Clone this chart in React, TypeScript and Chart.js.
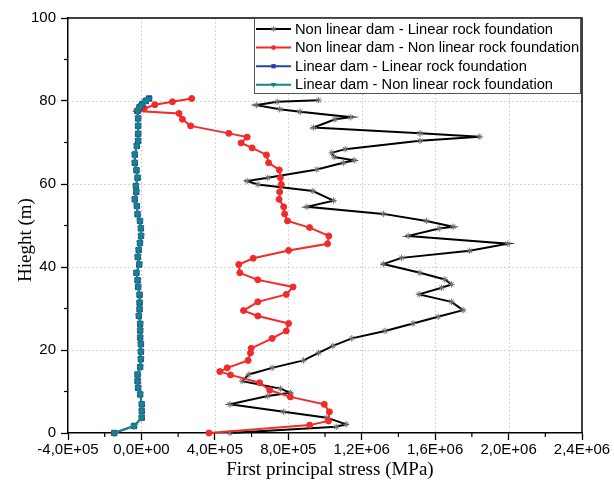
import React, { useEffect, useRef } from 'react';
import { Chart, registerables } from 'chart.js';

Chart.register(...registerables);

// ---- Axis ticks ----
const xTickValues = [-4e5, 0, 4e5, 8e5, 1.2e6, 1.6e6, 2.0e6, 2.4e6];
const xMinorTicks = [-2e5, 2e5, 6e5, 1.0e6, 1.4e6, 1.8e6, 2.2e6];
const yTickValues = [0, 20, 40, 60, 80, 100];
const yMinorTicks = [10, 30, 50, 70, 90];

const xTitle = 'First principal stress (MPa)';
const yTitle = 'Hieght (m)';

const seriesLabels = [
  'Non linear dam - Linear rock foundation',
  'Non linear dam - Non linear rock foundation',
  'Linear dam - Linear rock foundation',
  'Linear dam - Non linear rock foundation',
];

// ---- Series 1: Non linear dam - Linear rock foundation ----
const blackStress = [
  4.82e5, 10.61e5, 11.15e5, 10.10e5, 7.75e5, 4.82e5, 6.88e5, 8.11e5, 7.57e5, 5.49e5,
  5.85e5, 7.12e5, 8.83e5, 9.65e5, 10.43e5, 11.46e5, 13.27e5, 14.80e5, 16.16e5, 17.52e5,
  16.89e5, 15.13e5, 16.35e5, 16.89e5, 16.53e5, 15.17e5, 13.18e5, 14.17e5, 17.88e5, 19.96e5,
  14.53e5, 16.22e5, 16.98e5, 15.53e5, 13.18e5, 9.02e5, 10.46e5, 9.34e5, 6.34e5, 5.76e5,
  6.88e5, 9.56e5, 11.0e5, 11.59e5, 10.50e5, 10.37e5, 11.10e5, 15.17e5, 18.43e5, 15.17e5,
  9.38e5, 10.55e5, 11.41e5, 8.65e5, 7.53e5, 6.26e5, 7.39e5, 9.65e5,
];
const blackHeight = [
  0, 1.5, 2.1, 3.7, 5.1, 6.9, 8.9, 9.7, 10.7, 12.5,
  14.1, 15.7, 17.5, 19.3, 21.0, 22.8, 24.6, 26.4, 28.0, 29.6,
  31.6, 33.4, 35.0, 35.8, 37.0, 38.6, 40.7, 42.2, 43.9, 45.6,
  47.5, 49.3, 49.7, 51.1, 52.8, 54.5, 56.0, 58.3, 59.9, 60.7,
  61.5, 63.5, 65.1, 65.7, 66.5, 67.5, 68.4, 70.4, 71.4, 72.2,
  73.6, 75.6, 76.1, 77.4, 78.0, 79.0, 79.8, 80.2,
];

// ---- Series 2: Non linear dam - Non linear rock foundation ----
const redStress = [
  3.68e5, 9.16e5, 10.19e5, 10.24e5, 9.96e5, 8.11e5, 6.99e5, 6.44e5, 4.85e5, 4.27e5,
  4.67e5, 5.81e5, 5.94e5, 5.98e5, 7.12e5, 7.89e5, 8.02e5, 6.34e5, 5.56e5, 6.34e5,
  7.89e5, 8.26e5, 6.34e5, 5.36e5, 5.30e5, 6.09e5, 8.02e5, 10.14e5, 10.21e5, 9.16e5,
  7.96e5, 7.80e5, 7.75e5, 7.50e5, 7.53e5, 7.62e5, 7.57e5, 7.51e5, 6.93e5, 6.81e5,
  6.03e5, 5.43e5, 5.76e5, 4.76e5, 2.68e5, 2.23e5, 2.05e5, -0.25e5, 0.15e5, 0.73e5,
  1.69e5, 2.74e5,
];
const redHeight = [
  0, 1.9, 2.9, 5.1, 6.9, 8.7, 10.3, 12.1, 14.0, 14.8,
  15.7, 17.5, 19.3, 20.4, 22.8, 24.6, 26.4, 28.2, 29.5, 31.6,
  33.4, 35.2, 36.9, 38.6, 40.6, 42.1, 44.0, 45.6, 47.5, 49.5,
  51.1, 52.8, 54.5, 56.3, 58.1, 59.9, 61.5, 63.4, 65.1, 67.0,
  68.7, 69.9, 71.3, 72.2, 74.0, 75.6, 77.0, 77.6, 78.2, 79.1,
  79.8, 80.6,
];

// ---- Series 3: Linear dam - Linear rock foundation ----
const blueStress = [
  -1.48e5, -0.40e5, 0.02e5, 0.02e5, 0.02e5, -0.07e5, -0.18e5, -0.21e5, -0.21e5, -0.07e5,
  -0.03e5, -0.03e5, -0.03e5, -0.07e5, -0.07e5, -0.07e5, -0.14e5, -0.10e5, -0.10e5, -0.10e5,
  -0.18e5, -0.21e5, -0.27e5, -0.12e5, -0.20e5, -0.15e5, -0.08e5, -0.02e5, -0.03e5, -0.08e5,
  -0.21e5, -0.25e5, -0.36e5, -0.28e5, -0.30e5, -0.21e5, -0.27e5, -0.36e5, -0.36e5, -0.25e5,
  -0.18e5, -0.18e5, -0.18e5, -0.18e5, -0.21e5, -0.10e5, 0.04e5, 0.24e5, 0.42e5,
];
const blueHeight = [
  0, 1.7, 3.7, 5.3, 6.9, 9.3, 10.9, 12.5, 14.1, 15.9,
  17.8, 19.6, 21.4, 23.0, 24.7, 26.3, 28.2, 29.8, 31.4, 33.3,
  35.2, 36.8, 38.6, 40.6, 42.4, 44.1, 45.8, 47.5, 49.3, 51.1,
  52.7, 54.7, 56.3, 58.1, 59.5, 61.5, 63.3, 65.1, 67.1, 69.2,
  70.4, 72.1, 74.0, 75.8, 77.6, 78.5, 79.2, 80.0, 80.6,
];

// ---- Series 4: Linear dam - Non linear rock foundation ----
const tealStress = [
  -1.48e5, -0.40e5, 0.02e5, 0.02e5, 0.02e5, -0.07e5, -0.18e5, -0.21e5, -0.21e5, -0.07e5,
  -0.03e5, -0.03e5, -0.03e5, -0.07e5, -0.07e5, -0.07e5, -0.14e5, -0.10e5, -0.10e5, -0.10e5,
  -0.18e5, -0.21e5, -0.27e5, -0.12e5, -0.20e5, -0.15e5, -0.08e5, -0.02e5, -0.03e5, -0.08e5,
  -0.21e5, -0.25e5, -0.36e5, -0.28e5, -0.30e5, -0.21e5, -0.27e5, -0.36e5, -0.36e5, -0.25e5,
  -0.18e5, -0.18e5, -0.18e5, -0.18e5, -0.21e5, -0.12e5, 0.0, 0.18e5, 0.36e5,
];
const tealHeight = [
  0, 1.7, 3.7, 5.3, 6.9, 9.3, 10.9, 12.5, 14.1, 15.9,
  17.8, 19.6, 21.4, 23.0, 24.7, 26.3, 28.2, 29.8, 31.4, 33.3,
  35.2, 36.8, 38.6, 40.6, 42.4, 44.1, 45.8, 47.5, 49.3, 51.1,
  52.7, 54.7, 56.3, 58.1, 59.5, 61.5, 63.3, 65.1, 67.1, 69.2,
  70.4, 72.1, 74.0, 75.8, 77.6, 78.4, 79.0, 79.8, 80.4,
];

const SANS = '"Liberation Sans", Arial, Helvetica, sans-serif';
const SERIF = '"Liberation Serif", "Times New Roman", serif';

const styles = [
  { color: '#000000', marker: 'star', markerColor: '#707070', radius: 3.2 },
  { color: '#f22a2a', marker: 'circle', markerColor: '#f22a2a', radius: 3 },
  { color: '#2444a8', marker: 'rect', markerColor: '#2444a8', radius: 3.8 },
  { color: '#168585', marker: 'triangle', markerColor: '#168585', radius: 3.6 },
];

function fmtSci(v: number): string {
  const r = Math.round(v / 1000) * 1000;
  if (r === 0) return '0,0E+00';
  const e = Math.floor(Math.log10(Math.abs(r)) + 1e-9);
  const m = r / Math.pow(10, e);
  return m.toFixed(1).replace('.', ',') + 'E+' + String(e).padStart(2, '0');
}

function drawMarker(ctx: CanvasRenderingContext2D, kind: string, x: number, y: number, r: number, color: string) {
  ctx.save();
  ctx.fillStyle = color;
  ctx.strokeStyle = color;
  ctx.lineWidth = 1;
  ctx.beginPath();
  if (kind === 'circle') {
    ctx.arc(x, y, r, 0, Math.PI * 2);
    ctx.fill();
  } else if (kind === 'rect') {
    const s = r * Math.SQRT1_2;
    ctx.rect(x - s, y - s, 2 * s, 2 * s);
    ctx.fill();
  } else if (kind === 'triangle') {
    ctx.moveTo(x - r, y - r * 0.6);
    ctx.lineTo(x + r, y - r * 0.6);
    ctx.lineTo(x, y + r);
    ctx.closePath();
    ctx.fill();
  } else {
    ctx.moveTo(x - r, y);
    ctx.lineTo(x + r, y);
    ctx.moveTo(x, y - r);
    ctx.lineTo(x, y + r);
    ctx.moveTo(x - r * 0.7, y - r * 0.7);
    ctx.lineTo(x + r * 0.7, y + r * 0.7);
    ctx.moveTo(x - r * 0.7, y + r * 0.7);
    ctx.lineTo(x + r * 0.7, y - r * 0.7);
    ctx.stroke();
  }
  ctx.restore();
}

const framePlugin = {
  id: 'framePlugin',
  beforeDatasetsDraw(chart: any) {
    const { ctx, chartArea } = chart;
    const xs = chart.scales.x;
    const ys = chart.scales.y;
    ctx.save();
    ctx.strokeStyle = '#c8c8c8';
    ctx.lineWidth = 1;
    ctx.setLineDash([1.5, 2.5]);
    xTickValues.slice(1, -1).forEach((v) => {
      const px = Math.round(xs.getPixelForValue(v)) + 0.5;
      ctx.beginPath();
      ctx.moveTo(px, chartArea.top);
      ctx.lineTo(px, chartArea.bottom);
      ctx.stroke();
    });
    yTickValues.slice(1, -1).forEach((v) => {
      const py = Math.round(ys.getPixelForValue(v)) + 0.5;
      ctx.beginPath();
      ctx.moveTo(chartArea.left, py);
      ctx.lineTo(chartArea.right, py);
      ctx.stroke();
    });
    ctx.restore();
  },
  afterDatasetsDraw(chart: any) {
    const { ctx, chartArea } = chart;
    const xs = chart.scales.x;
    const ys = chart.scales.y;
    ctx.save();
    ctx.strokeStyle = '#000';
    ctx.lineWidth = 1.5;
    ctx.beginPath();
    ctx.moveTo(chartArea.left, chartArea.top);
    ctx.lineTo(chartArea.right, chartArea.top);
    ctx.lineTo(chartArea.right, chartArea.bottom);
    ctx.stroke();
    ctx.lineWidth = 1.2;
    xMinorTicks.forEach((v) => {
      const px = xs.getPixelForValue(v);
      ctx.beginPath();
      ctx.moveTo(px, chartArea.bottom);
      ctx.lineTo(px, chartArea.bottom + 4);
      ctx.stroke();
    });
    yMinorTicks.forEach((v) => {
      const py = ys.getPixelForValue(v);
      ctx.beginPath();
      ctx.moveTo(chartArea.left, py);
      ctx.lineTo(chartArea.left - 4, py);
      ctx.stroke();
    });
    ctx.restore();
  },
  afterDraw(chart: any) {
    const { ctx, chartArea } = chart;
    // legend
    const bx = 254, by = chartArea.top, bw = 326, bh = 75;
    ctx.save();
    ctx.fillStyle = '#fff';
    ctx.fillRect(bx, by, bw, bh);
    ctx.strokeStyle = '#555';
    ctx.lineWidth = 1;
    ctx.strokeRect(bx + 0.5, by + 0.5, bw, bh);
    ctx.font = '14.7px ' + SANS;
    ctx.textBaseline = 'middle';
    ctx.textAlign = 'left';
    seriesLabels.forEach((label, i) => {
      const y = by + 11 + i * 18.6;
      const st = styles[i];
      ctx.strokeStyle = st.color;
      ctx.lineWidth = 2;
      ctx.beginPath();
      ctx.moveTo(bx + 2, y);
      ctx.lineTo(bx + 37, y);
      ctx.stroke();
      drawMarker(ctx, st.marker, bx + 19.5, y, st.radius * 0.8, st.markerColor);
      ctx.fillStyle = '#000';
      ctx.fillText(label, bx + 41, y + 0.5);
    });
    // axis titles
    ctx.fillStyle = '#000';
    ctx.font = '19px ' + SERIF;
    ctx.textAlign = 'center';
    ctx.textBaseline = 'middle';
    ctx.fillText(xTitle, (chartArea.left + chartArea.right) / 2 + 5, 470);
    ctx.save();
    ctx.translate(26, 240);
    ctx.rotate(-Math.PI / 2);
    ctx.fillText(yTitle, 0, 0);
    ctx.restore();
    ctx.restore();
  },
};

function makeData(xs: number[], ys: number[]) {
  return xs.map((x, i) => ({ x, y: ys[i] }));
}

export default function App() {
  const canvasRef = useRef<HTMLCanvasElement | null>(null);

  useEffect(() => {
    const canvas = canvasRef.current;
    if (!canvas) return;
    const seriesData = [
      makeData(blackStress, blackHeight),
      makeData(redStress, redHeight),
      makeData(blueStress, blueHeight),
      makeData(tealStress, tealHeight),
    ];
    const orders = [4, 3, 2, 1];
    const datasets = seriesData.map((data, i) => ({
      label: seriesLabels[i],
      data,
      showLine: true,
      tension: 0,
      borderColor: styles[i].color,
      borderWidth: 2,
      backgroundColor: styles[i].markerColor,
      pointStyle: styles[i].marker,
      pointRadius: styles[i].radius,
      pointRotation: i === 3 ? 180 : 0,
      pointBackgroundColor: styles[i].markerColor,
      pointBorderColor: styles[i].markerColor,
      pointBorderWidth: 1,
      order: orders[i],
      clip: false as any,
    }));

    const chart = new Chart(canvas, {
      type: 'scatter',
      data: { datasets },
      options: {
        animation: false,
        responsive: false,
        devicePixelRatio: 1,
        events: [],
        layout: { padding: { top: 18, right: 32, left: 0, bottom: 0 } },
        plugins: {
          legend: { display: false },
          tooltip: { enabled: false },
          title: { display: false },
        },
        scales: {
          x: {
            type: 'linear',
            min: -4e5,
            max: 2.4e6,
            afterBuildTicks: (s: any) => {
              s.ticks = xTickValues.map((v) => ({ value: v }));
            },
            afterFit: (s: any) => {
              s.height = 51;
            },
            ticks: {
              autoSkip: false,
              maxRotation: 0,
              minRotation: 0,
              padding: 1,
              color: '#000',
              font: { family: SANS, size: 15 },
              callback: (v: any) => fmtSci(Number(v)),
            },
            grid: {
              display: true,
              drawOnChartArea: false,
              drawTicks: true,
              tickLength: 7,
              tickColor: '#000',
              tickWidth: 1.3,
            },
            border: { display: true, color: '#000', width: 1.5 },
          },
          y: {
            type: 'linear',
            min: 0,
            max: 100,
            afterBuildTicks: (s: any) => {
              s.ticks = yTickValues.map((v) => ({ value: v }));
            },
            afterFit: (s: any) => {
              s.width = 68;
            },
            ticks: {
              autoSkip: false,
              padding: 5,
              color: '#000',
              font: { family: SANS, size: 15 },
              callback: (v: any) => String(v),
            },
            grid: {
              display: true,
              drawOnChartArea: false,
              drawTicks: true,
              tickLength: 7,
              tickColor: '#000',
              tickWidth: 1.3,
            },
            border: { display: true, color: '#000', width: 1.5 },
          },
        },
      },
      plugins: [framePlugin],
    } as any);

    return () => {
      chart.destroy();
    };
  }, []);

  return (
    <div style={{ position: 'absolute', left: 0, top: 0, width: 614, height: 484, background: '#fff' }}>
      <canvas ref={canvasRef} width={614} height={484} style={{ width: 614, height: 484, display: 'block' }} />
    </div>
  );
}
